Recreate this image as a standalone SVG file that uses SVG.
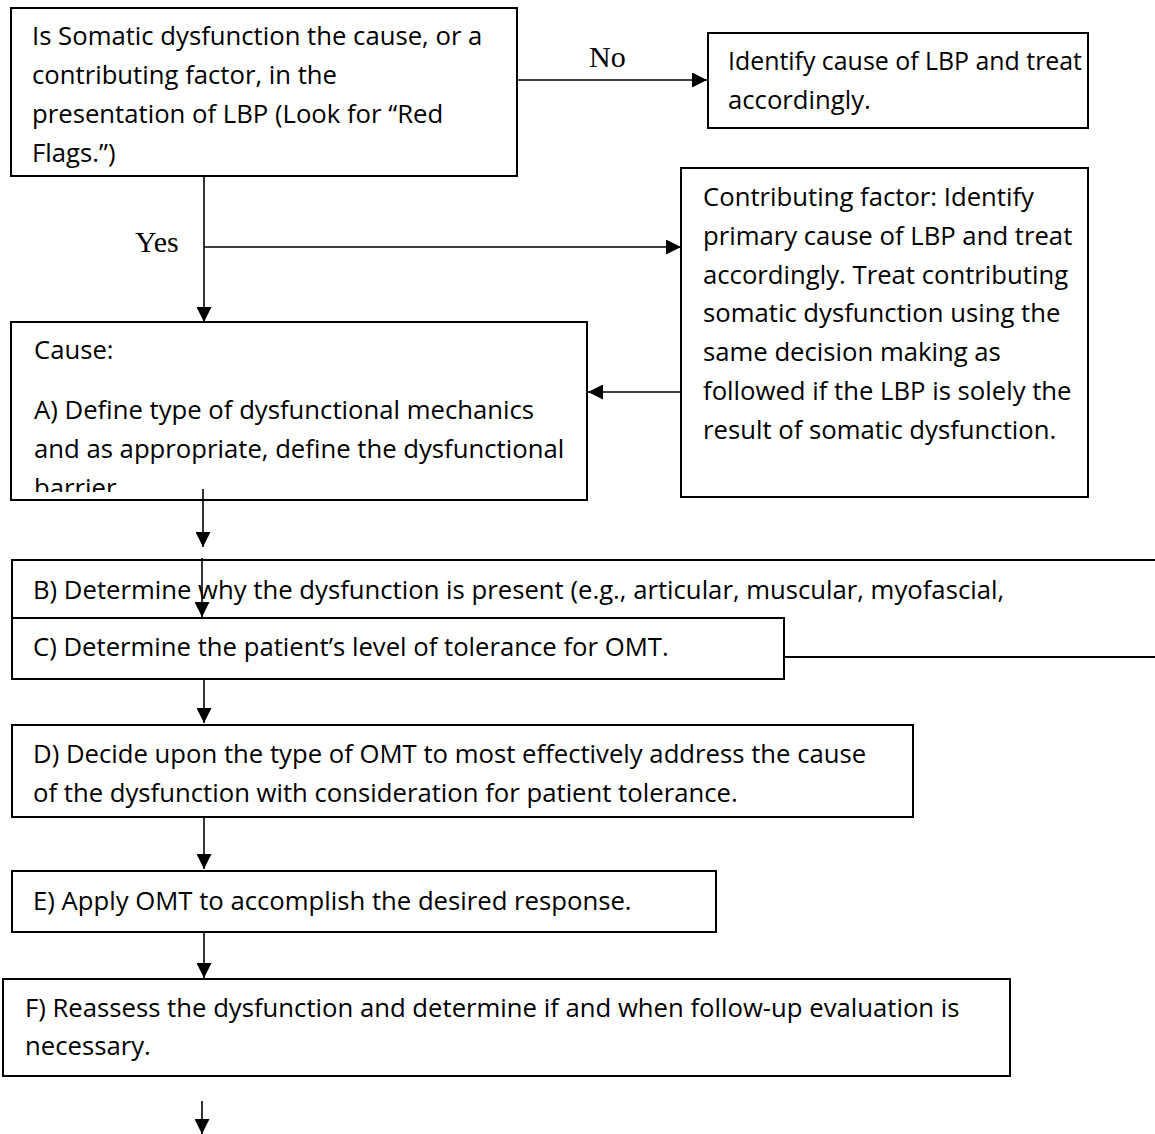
<svg xmlns="http://www.w3.org/2000/svg" width="1155" height="1134" viewBox="0 0 1155 1134">
<defs>
<marker id="ah" markerUnits="userSpaceOnUse" markerWidth="15" markerHeight="15" viewBox="0 0 15 15" refX="15" refY="7.5" orient="auto"><path d="M0,0 L15,7.5 L0,15 z" fill="#000"/></marker>
<clipPath id="clipCause"><rect x="12" y="323" width="574" height="169"/></clipPath>
</defs>
<style>
.box{fill:#fff;stroke:#000;stroke-width:2}
.t{font-family:"Open Sans","Liberation Sans",sans-serif;font-size:25.7px;fill:#000}
.lbl{font-family:"Liberation Serif",serif;font-size:30px;fill:#000}
.c{stroke:#000;stroke-width:1.6;fill:none;marker-end:url(#ah)}
</style>
<rect width="1155" height="1134" fill="#fff"/>
<g id="n1">
<rect class="box" x="11" y="8" width="506" height="168"/>
<text class="t" x="32" y="45">Is Somatic dysfunction the cause, or a</text>
<text class="t" x="32" y="84">contributing factor, in the</text>
<text class="t" x="32" y="123">presentation of LBP (Look for “Red</text>
<text class="t" x="32" y="162">Flags.”)</text>
</g>
<g id="n2">
<rect class="box" x="708" y="33" width="380" height="95"/>
<text class="t" x="728" y="70" textLength="354" lengthAdjust="spacingAndGlyphs">Identify cause of LBP and treat</text>
<text class="t" x="728" y="108.5">accordingly.</text>
</g>
<g id="n3">
<rect class="box" x="681" y="168" width="407" height="329"/>
<text class="t" x="703" y="206">Contributing factor: Identify</text>
<text class="t" x="703" y="244.8">primary cause of LBP and treat</text>
<text class="t" x="703" y="283.6">accordingly. Treat contributing</text>
<text class="t" x="703" y="322.4">somatic dysfunction using the</text>
<text class="t" x="703" y="361.2">same decision making as</text>
<text class="t" x="703" y="400">followed if the LBP is solely the</text>
<text class="t" x="703" y="438.8">result of somatic dysfunction.</text>
</g>
<g id="n4">
<rect class="box" x="11" y="322" width="576" height="178"/>
<g clip-path="url(#clipCause)">
<text class="t" x="34" y="359">Cause:</text>
<text class="t" x="34" y="419">A) Define type of dysfunctional mechanics</text>
<text class="t" x="34" y="458">and as appropriate, define the dysfunctional</text>
<text class="t" x="34" y="497">barrier.</text>
</g>
</g>
<g id="n5">
<rect class="box" x="12" y="560" width="1160" height="97"/>
<text class="t" x="33" y="599">B) Determine why the dysfunction is present (e.g., articular, muscular, myofascial,</text>
</g>
<g id="n6">
<rect class="box" x="12" y="618" width="772" height="61"/>
<text class="t" x="33" y="656">C) Determine the patient’s level of tolerance for OMT.</text>
</g>
<g id="n7">
<rect class="box" x="12" y="725" width="901" height="92"/>
<text class="t" x="33" y="763">D) Decide upon the type of OMT to most effectively address the cause</text>
<text class="t" x="33" y="802">of the dysfunction with consideration for patient tolerance.</text>
</g>
<g id="n8">
<rect class="box" x="12" y="871" width="704" height="61"/>
<text class="t" x="33" y="910">E) Apply OMT to accomplish the desired response.</text>
</g>
<g id="n9">
<rect class="box" x="3" y="979" width="1007" height="97"/>
<text class="t" x="25" y="1017">F) Reassess the dysfunction and determine if and when follow-up evaluation is</text>
<text class="t" x="25" y="1055">necessary.</text>
</g>
<g id="connectors">
<line class="c" x1="517" y1="80" x2="707" y2="80"/>
<line class="c" x1="204" y1="176" x2="204" y2="322"/>
<line class="c" x1="204" y1="247" x2="681" y2="247"/>
<line class="c" x1="681" y1="392" x2="588" y2="392"/>
<line class="c" x1="203" y1="489" x2="203" y2="547"/>
<line class="c" x1="202" y1="558" x2="202" y2="617"/>
<line class="c" x1="204" y1="679" x2="204" y2="723"/>
<line class="c" x1="204" y1="818" x2="204" y2="869"/>
<line class="c" x1="204" y1="932" x2="204" y2="978"/>
<line class="c" x1="202" y1="1101" x2="202" y2="1134"/>
<text class="lbl" x="589" y="67">No</text>
<text class="lbl" x="135" y="252">Yes</text>
</g>
</svg>
